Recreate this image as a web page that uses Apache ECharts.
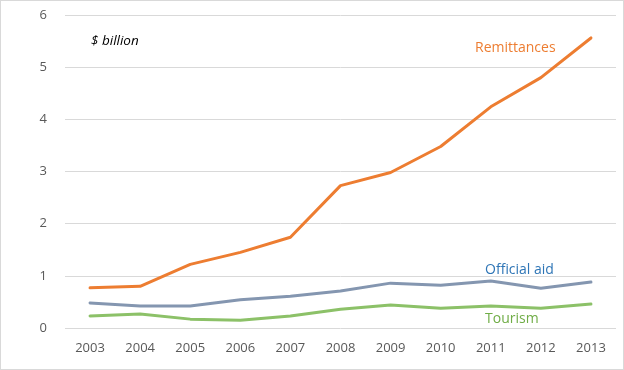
<!DOCTYPE html>
<html><head><meta charset="utf-8">
<script src="https://cdn.jsdelivr.net/npm/echarts@6/dist/echarts.min.js"></script>
<style>html,body{margin:0;padding:0;background:#fff}#c{width:624px;height:370px;box-sizing:border-box;border:1px solid #d9d9d9}</style>
</head><body><div id="c"></div>
<script>
const years = ['2003','2004','2005','2006','2007','2008','2009','2010','2011','2012','2013'];
const remittances = [0.77,0.80,1.22,1.45,1.74,2.73,2.98,3.48,4.24,4.80,5.56];
const officialAid = [0.48,0.42,0.42,0.54,0.61,0.71,0.86,0.82,0.90,0.76,0.88];
const tourism = [0.23,0.27,0.17,0.15,0.23,0.36,0.44,0.38,0.42,0.38,0.46];
const yTicks = [0,1,2,3,4,5,6];

const chart = echarts.init(document.getElementById('c'));
const font = 'Open Sans, Noto Sans, sans-serif';
function line(name, data, color){
  return {name, type:'line', data, symbol:'none', smooth:false,
    lineStyle:{color, width:3, cap:'round', join:'round'}, itemStyle:{color}};
}
chart.setOption({
  animation:false,
  grid:{left:64, right:7, top:14, bottom:41},
  xAxis:{type:'category', data:years, boundaryGap:true,
    axisLine:{show:false}, axisTick:{show:false},
    axisLabel:{color:'#595959', fontSize:13, fontFamily:font, margin:14}},
  yAxis:{type:'value', min:yTicks[0], max:yTicks[yTicks.length-1], interval:1,
    axisLine:{show:false}, axisTick:{show:false},
    splitLine:{lineStyle:{color:'#d9d9d9', width:1}},
    axisLabel:{color:'#595959', fontSize:13, fontFamily:font, margin:18}},
  series:[
    line('Tourism', tourism, '#8cc168'),
    line('Official aid', officialAid, '#8496b0'),
    line('Remittances', remittances, '#ed7d31')
  ],
  graphic:[
    {type:'text', left:90, top:33, style:{text:'$ billion', fill:'#000', fontSize:13.5, fontStyle:'italic', fontFamily:font}},
    {type:'text', left:474, top:40, style:{text:'Remittances', fill:'#ed7d31', fontSize:14, fontFamily:font}},
    {type:'text', left:484, top:262, style:{text:'Official aid', fill:'#2e75b6', fontSize:14, fontFamily:font}},
    {type:'text', left:484, top:311, style:{text:'Tourism', fill:'#70ad47', fontSize:14, fontFamily:font}}
  ]
});
</script></body></html>
